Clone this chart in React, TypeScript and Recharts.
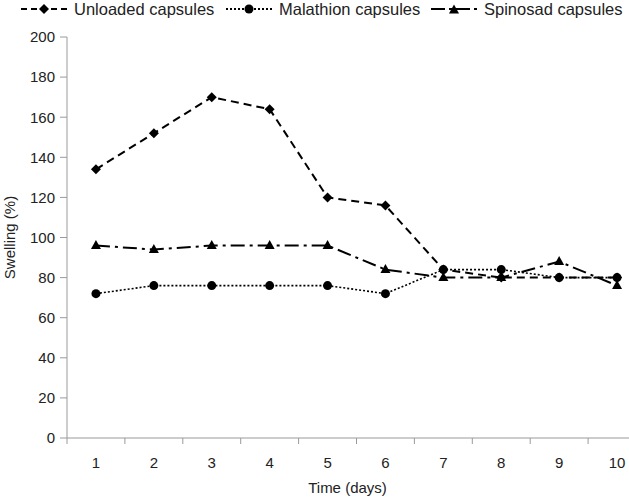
import React from "react";
import { LineChart, Line, XAxis, YAxis } from "recharts";

const days = [1, 2, 3, 4, 5, 6, 7, 8, 9, 10];
const unloaded = [134, 152, 170, 164, 120, 116, 84, 80, 80, 80];
const malathion = [72, 76, 76, 76, 76, 72, 84, 84, 80, 80];
const spinosad = [96, 94, 96, 96, 96, 84, 80, 80, 88, 76];
const yTicks = [0, 20, 40, 60, 80, 100, 120, 140, 160, 180, 200];

const data = days.map((d, i) => ({
  day: d,
  unloaded: unloaded[i],
  malathion: malathion[i],
  spinosad: spinosad[i],
}));

const W = 660;
const H = 498;
const margin = { top: 37, right: 14, bottom: 0, left: 0 };
const yAxisW = 67;
const halfBand = (W - margin.left - margin.right - yAxisW) / days.length / 2;
const axisColor = "#9a9a9a";
const textColor = "#222";
const font = "'Liberation Sans', Arial, sans-serif";

const Diamond = ({ cx, cy }: any) => (
  <polygon
    points={`${cx},${cy - 5} ${cx + 5},${cy} ${cx},${cy + 5} ${cx - 5},${cy}`}
    fill="#000"
  />
);
const Dot = ({ cx, cy }: any) => <circle cx={cx} cy={cy} r={4.5} fill="#000" />;
const Tri = ({ cx, cy }: any) => (
  <polygon
    points={`${cx},${cy - 5.5} ${cx + 5},${cy + 3.5} ${cx - 5},${cy + 3.5}`}
    fill="#000"
  />
);

// tick marks sit between the days, labels under each day
const XTick = ({ x, y, payload }: any) => (
  <g>
    <line x1={x - halfBand} x2={x - halfBand} y1={y} y2={y + 6} stroke={axisColor} />
    <text x={x} y={y + 29.5} textAnchor="middle" fontSize={15} fill={textColor} fontFamily={font}>
      {payload.value}
    </text>
  </g>
);

const LegendItem = ({ label, dash, marker, width }: any) => (
  <div style={{ display: "flex", alignItems: "center", width }}>
    <svg width={46} height={14} style={{ marginRight: 7 }}>
      <line x1={0} x2={46} y1={7} y2={7} stroke="#000" strokeWidth={2} strokeDasharray={dash} />
      {marker === "d" && <Diamond cx={23} cy={7} />}
      {marker === "c" && <Dot cx={23} cy={7} />}
      {marker === "t" && <Tri cx={23} cy={8} />}
    </svg>
    <span>{label}</span>
  </div>
);

export default function App() {
  return (
    <div
      style={{
        position: "absolute",
        left: 0,
        top: 0,
        width: 629,
        height: H,
        overflow: "hidden",
        background: "#fff",
        fontFamily: font,
      }}
    >
      <div
        style={{
          position: "absolute",
          top: -1,
          left: 21,
          display: "flex",
          fontSize: 16.5,
          color: textColor,
          lineHeight: "20px",
        }}
      >
        <LegendItem label="Unloaded capsules" dash="6 4" marker="d" width={205} />
        <LegendItem label="Malathion capsules" dash="2 2" marker="c" width={205} />
        <LegendItem label="Spinosad capsules" dash="14 4 3 4" marker="t" width={200} />
      </div>
      <LineChart width={W} height={H} data={data} margin={margin}>
        <XAxis
          dataKey="day"
          type="number"
          domain={[0.5, 10.5]}
          ticks={days}
          height={60}
          axisLine={{ stroke: axisColor }}
          tickLine={false}
          tickSize={0}
          tickMargin={0}
          tick={<XTick />}
          interval={0}
          label={{
            value: "Time (days)",
            position: "insideBottom",
            offset: 5,
            dx: -9,
            style: { fontSize: 15, fill: textColor, fontFamily: font },
          }}
        />
        <YAxis
          domain={[0, 200]}
          ticks={yTicks}
          width={yAxisW}
          axisLine={{ stroke: axisColor }}
          tickLine={{ stroke: axisColor }}
          tickSize={7}
          tickMargin={5}
          tick={{ fontSize: 15, fill: textColor, fontFamily: font }}
          interval={0}
          label={{
            value: "Swelling (%)",
            angle: -90,
            position: "insideLeft",
            offset: 10,
            style: { fontSize: 15, fill: textColor, fontFamily: font, textAnchor: "middle" },
          }}
        />
        <Line
          dataKey="unloaded"
          stroke="#000"
          strokeWidth={2}
          strokeDasharray="8 5"
          isAnimationActive={false}
          dot={(p: any) => <Diamond key={`u${p.index}`} cx={p.cx} cy={p.cy} />}
          activeDot={false}
        />
        <Line
          dataKey="malathion"
          stroke="#000"
          strokeWidth={1.6}
          strokeDasharray="2 2"
          isAnimationActive={false}
          dot={(p: any) => <Dot key={`m${p.index}`} cx={p.cx} cy={p.cy} />}
          activeDot={false}
        />
        <Line
          dataKey="spinosad"
          stroke="#000"
          strokeWidth={2}
          strokeDasharray="14 5 3 5"
          isAnimationActive={false}
          dot={(p: any) => <Tri key={`s${p.index}`} cx={p.cx} cy={p.cy} />}
          activeDot={false}
        />
      </LineChart>
    </div>
  );
}
